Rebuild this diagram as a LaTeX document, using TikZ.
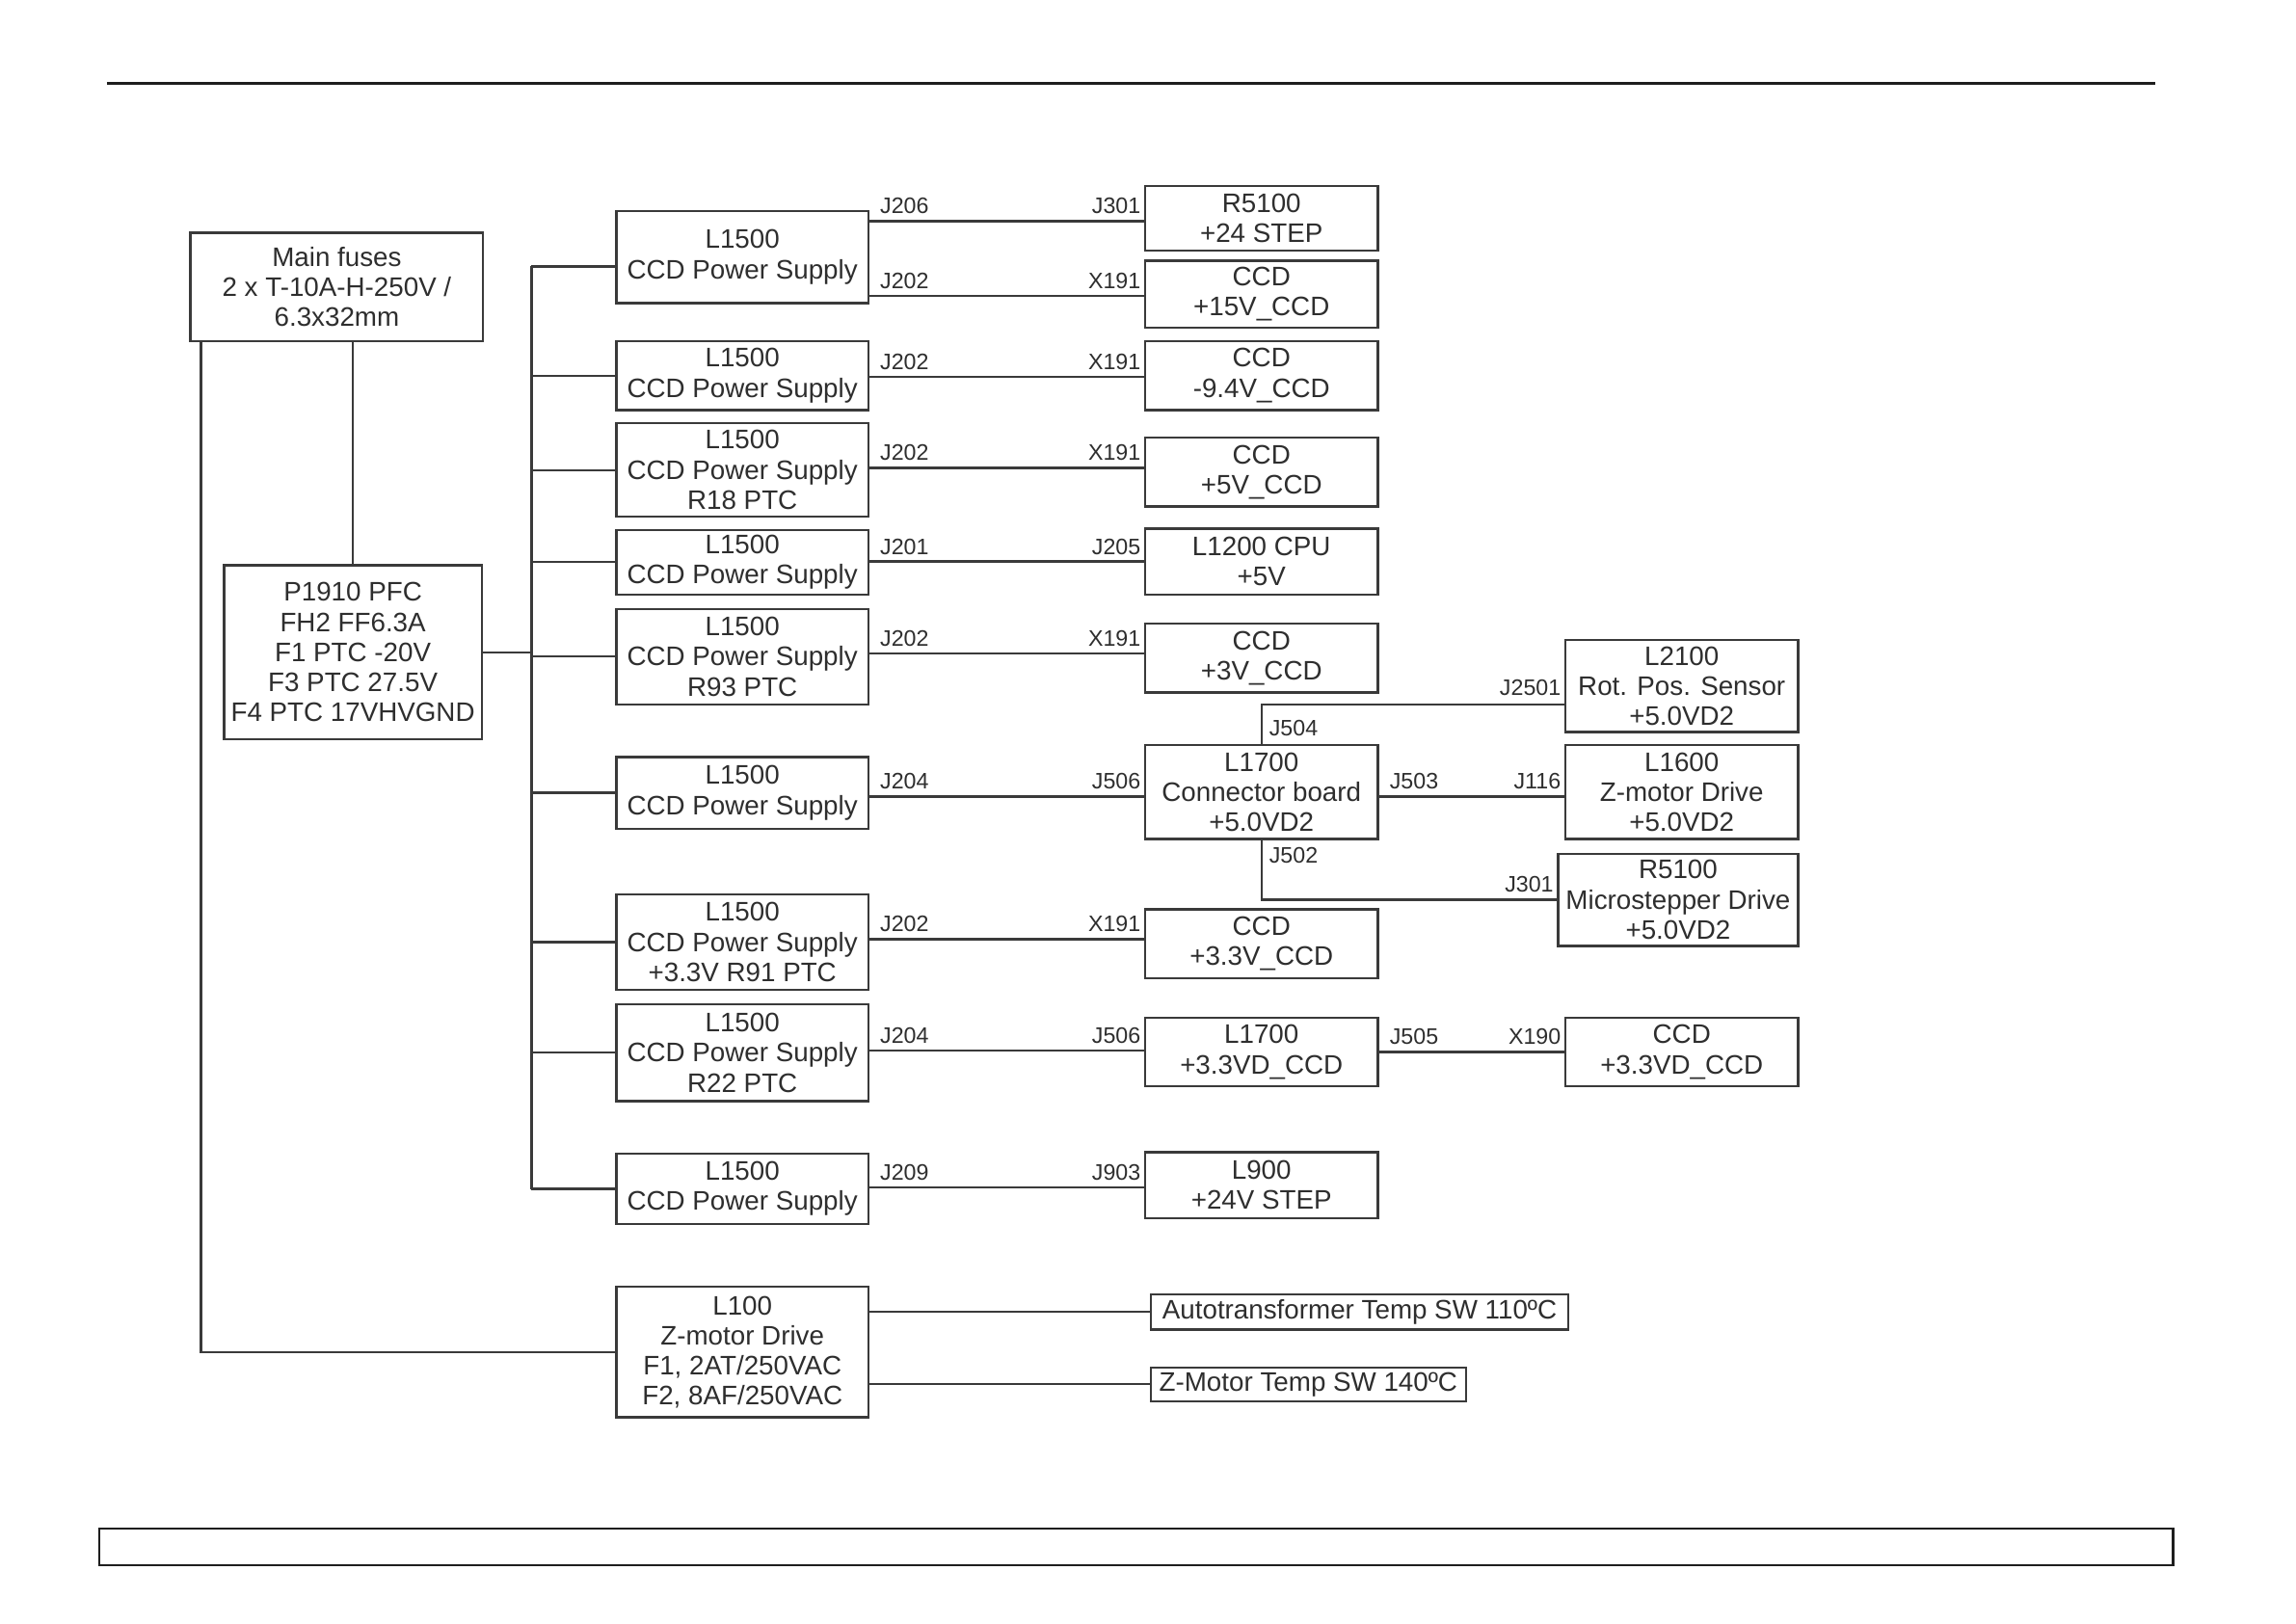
\documentclass[tikz,border=0pt]{standalone}
\usepackage{fontspec}
\setmainfont{Liberation Sans}
\usetikzlibrary{calc}
\definecolor{linec}{HTML}{3A3A3A}
\definecolor{textc}{HTML}{2E2E2E}
\definecolor{framec}{HTML}{1E1E1E}
\newcommand{\boxfont}{\fontsize{10.4}{11.7}\selectfont}
\newcommand{\lblfont}{\fontsize{8.7}{10}\selectfont}
\begin{document}
\begin{tikzpicture}[x=0.2mm,y=-0.2mm,
  box/.style={draw=linec, line width=0.85pt, inner sep=0pt, align=center, font=\boxfont, text=textc},
  bx/.style 2 args={box, minimum width=#1, minimum height=#2},
  ln/.style={draw=linec, line width=0.85pt},
  lbl/.style={font=\lblfont, inner sep=0pt, text=textc},
  lw/.style={lbl, anchor=base west},
  le/.style={lbl, anchor=base east}]
\useasboundingbox (0,0) rectangle (1568,1108.6);
\draw[framec, line width=0.85pt] (73,57) -- (1472,57);
\draw[framec, line width=0.85pt] (68,1044) rectangle (1484,1069);

% left column
\node[bx={40mm}{14.8mm}] (mf) at (230,196) {Main fuses\\2 x T-10A-H-250V /\\6.3x32mm};
\node[bx={35.2mm}{23.8mm}] (p) at (241,445.5) {P1910 PFC\\FH2 FF6.3A\\F1 PTC -20V\\F3 PTC 27.5V\\F4 PTC 17VHVGND};

% L1500 column
\node[bx={34.4mm}{12.6mm}] (b1) at (507,175.5) {L1500\\CCD Power Supply};
\node[bx={34.4mm}{9.4mm}] (b2) at (507,256.5) {L1500\\CCD Power Supply};
\node[bx={34.4mm}{12.8mm}] (b3) at (507,321) {L1500\\CCD Power Supply\\R18 PTC};
\node[bx={34.4mm}{8.8mm}] (b4) at (507,384) {L1500\\CCD Power Supply};
\node[bx={34.4mm}{13mm}] (b5) at (507,448.5) {L1500\\CCD Power Supply\\R93 PTC};
\node[bx={34.4mm}{9.8mm}] (b6) at (507,541.5) {L1500\\CCD Power Supply};
\node[bx={34.4mm}{13mm}] (b7) at (507,643.5) {L1500\\CCD Power Supply\\+3.3V R91 PTC};
\node[bx={34.4mm}{13.2mm}] (b8) at (507,719) {L1500\\CCD Power Supply\\R22 PTC};
\node[bx={34.4mm}{9.6mm}] (b9) at (507,812) {L1500\\CCD Power Supply};
\node[bx={34.4mm}{17.8mm}] (l100) at (507,923.5) {L100\\Z-motor Drive\\F1, 2AT/250VAC\\F2, 8AF/250VAC};

% right column
\node[bx={31.8mm}{8.8mm}] (r1) at (861.5,149) {R5100\\+24 STEP};
\node[bx={31.8mm}{9.2mm}] (r2) at (861.5,201) {CCD\\+15V\_CCD};
\node[bx={31.8mm}{9.4mm}] (r3) at (861.5,256.5) {CCD\\-9.4V\_CCD};
\node[bx={31.8mm}{9.4mm}] (r4) at (861.5,322.5) {CCD\\+5V\_CCD};
\node[bx={31.8mm}{9mm}] (r5) at (861.5,383.5) {L1200 CPU\\+5V};
\node[bx={31.8mm}{9.4mm}] (r6) at (861.5,449.5) {CCD\\+3V\_CCD};
\node[bx={31.8mm}{12.8mm}] (r7) at (861.5,541) {L1700\\Connector board\\+5.0VD2};
\node[bx={31.8mm}{9.4mm}] (r8) at (861.5,644.5) {CCD\\+3.3V\_CCD};
\node[bx={31.8mm}{9.4mm}] (r9) at (861.5,718.5) {L1700\\+3.3VD\_CCD};
\node[bx={31.8mm}{9mm}] (r10) at (861.5,809.5) {L900\\+24V STEP};

% far right column
\node[bx={31.8mm}{12.6mm}] (f1) at (1148.5,468.5) {L2100\\Rot. Pos. Sensor\\+5.0VD2};
\node[bx={31.8mm}{12.8mm}] (f2) at (1148.5,541) {L1600\\Z-motor Drive\\+5.0VD2};
\node[bx={32.8mm}{12.6mm}] (f3) at (1146,614.5) {R5100\\Microstepper Drive\\+5.0VD2};
\node[bx={31.8mm}{9.4mm}] (f4) at (1148.5,718.5) {CCD\\+3.3VD\_CCD};

% temperature switches
\node[bx={57mm}{4.8mm}] (a1) at (928.5,896) {Autotransformer Temp SW 110ºC};
\node[bx={43mm}{4.6mm}] (a2) at (893.5,945.5) {Z-Motor Temp SW 140ºC};

% left wiring
\coordinate (bus) at (363,0);
\coordinate (b1in) at ($(b1.west)+(0,6.5)$);
\draw[ln] (p.north) -- (p.north |- mf.south);
\draw[ln] ($(mf.south west)+(8,0)$) |- (l100.west);
\draw[ln] (p.east) -- (p.east -| bus);
\draw[ln] (b1in -| bus) -- (b9.west -| bus);
\foreach \b in {b2,b3,b4,b5,b6,b7,b8,b9}{
  \draw[ln] (\b.west -| bus) -- (\b.west);
}
\draw[ln] (b1in -| bus) -- (b1in);

% link heights
\coordinate (y1) at ($(r1.west)+(0,2)$);
\coordinate (y2) at ($(r2.west)+(0,1)$);
\coordinate (y3) at ($(r3.west)+(0,1)$);
\coordinate (y4) at ($(r4.west)+(0,-3)$);
\coordinate (y5) at (r5.west);
\coordinate (y6) at ($(r6.west)+(0,-3)$);
\coordinate (y7) at ($(r7.west)+(0,3)$);
\coordinate (y8) at ($(r8.west)+(0,-3)$);
\coordinate (y9) at ($(r9.west)+(0,-1)$);
\coordinate (y10) at ($(r10.west)+(0,1.5)$);

% L1500 -> right column
\draw[ln] (y1 -| b1.east) -- (y1);
\draw[ln] (y2 -| b1.east) -- (y2);
\draw[ln] (y3 -| b2.east) -- (y3);
\draw[ln] (y4 -| b3.east) -- (y4);
\draw[ln] (y5 -| b4.east) -- (y5);
\draw[ln] (y6 -| b5.east) -- (y6);
\draw[ln] (y7 -| b6.east) -- (y7);
\draw[ln] (y8 -| b7.east) -- (y8);
\draw[ln] (y9 -| b8.east) -- (y9);
\draw[ln] (y10 -| b9.east) -- (y10);

\node[lw] (la1) at ($(y1 -| b1.east)+(7,-5)$) {J206};
\node[le] (ra1) at ($(y1)+(-2,-5)$) {J301};
\node[lw] (la2) at ($(y2 -| b1.east)+(7,-5)$) {J202};
\node[le] (ra2) at ($(y2)+(-2,-5)$) {X191};
\node[lw] (la3) at ($(y3 -| b2.east)+(7,-5)$) {J202};
\node[le] (ra3) at ($(y3)+(-2,-5)$) {X191};
\node[lw] (la4) at ($(y4 -| b3.east)+(7,-5)$) {J202};
\node[le] (ra4) at ($(y4)+(-2,-5)$) {X191};
\node[lw] (la5) at ($(y5 -| b4.east)+(7,-5)$) {J201};
\node[le] (ra5) at ($(y5)+(-2,-5)$) {J205};
\node[lw] (la6) at ($(y6 -| b5.east)+(7,-5)$) {J202};
\node[le] (ra6) at ($(y6)+(-2,-5)$) {X191};
\node[lw] (la7) at ($(y7 -| b6.east)+(7,-5)$) {J204};
\node[le] (ra7) at ($(y7)+(-2,-5)$) {J506};
\node[lw] (la8) at ($(y8 -| b7.east)+(7,-5)$) {J202};
\node[le] (ra8) at ($(y8)+(-2,-5)$) {X191};
\node[lw] (la9) at ($(y9 -| b8.east)+(7,-5)$) {J204};
\node[le] (ra9) at ($(y9)+(-2,-5)$) {J506};
\node[lw] (la10) at ($(y10 -| b9.east)+(7,-5)$) {J209};
\node[le] (ra10) at ($(y10)+(-2,-5)$) {J903};

% L1700 connector board -> far right
\coordinate (k1) at ($(f1.west)+(0,12.5)$);
\coordinate (k2) at ($(f2.west)+(0,3)$);
\draw[ln] (r7.north) |- (k1);
\draw[ln] (k2 -| r7.east) -- (k2);
\draw[ln] (r7.south) |- (f3.west);
\draw[ln] (r9.east) -- (f4.west);
\node[lw] (j504) at ($(r7.north)+(5,-6)$) {J504};
\node[le] (j2501) at ($(k1)+(-2,-6)$) {J2501};
\node[lw] (j503) at ($(k2 -| r7.east)+(7,-5)$) {J503};
\node[le] (j116) at ($(k2)+(-2,-5)$) {J116};
\node[lw] (j502) at ($(r7.south)+(5,16)$) {J502};
\node[le] (j301b) at ($(f3.west)+(-2,-5)$) {J301};
\node[lw] (j505) at ($(r9.east)+(7,-5)$) {J505};
\node[le] (x190) at ($(f4.west)+(-2,-5)$) {X190};

% L100 -> temperature switches
\draw[ln] (a1.west -| l100.east) -- (a1.west);
\draw[ln] (a2.west -| l100.east) -- (a2.west);
\end{tikzpicture}
\end{document}
